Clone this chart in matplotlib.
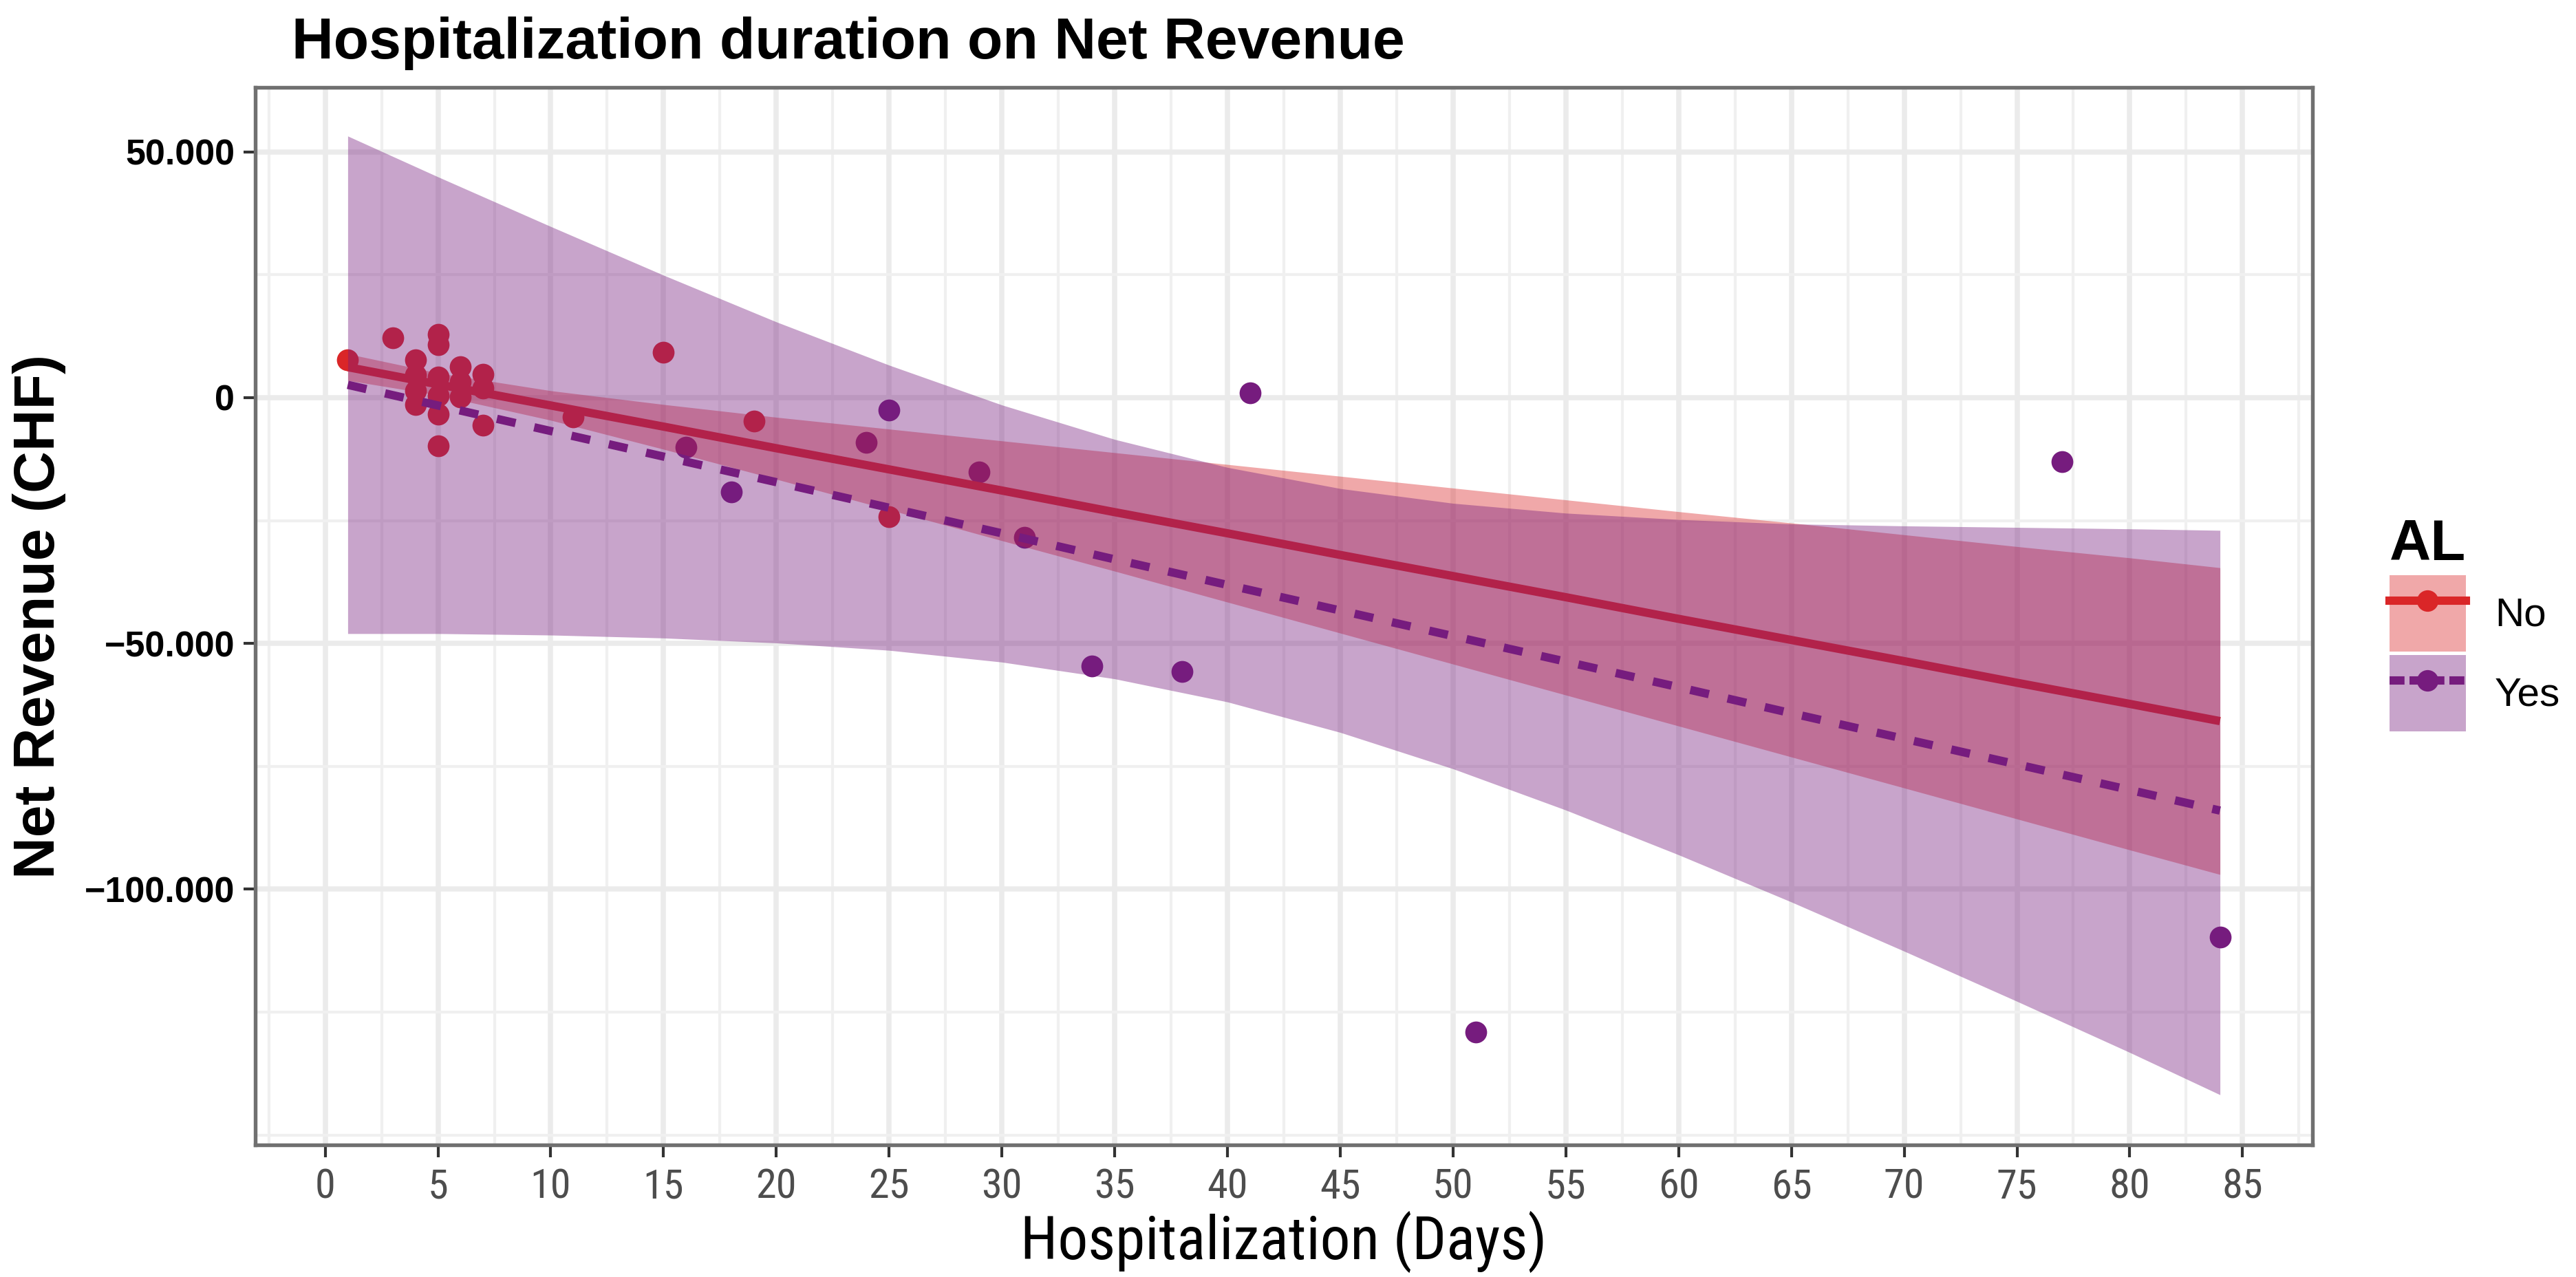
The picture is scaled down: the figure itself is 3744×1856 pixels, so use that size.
import matplotlib
matplotlib.use('Agg')
import matplotlib.pyplot as plt
from matplotlib import font_manager
from matplotlib.lines import Line2D
from matplotlib.patches import Patch
from matplotlib.ticker import MultipleLocator, FuncFormatter

# points
no_days = [1, 3, 4, 4, 4, 4, 5, 5, 5, 5, 5, 5, 6, 6, 6, 7, 7, 7, 11, 15, 19, 25]
no_revenue = [7700, 12200, 7700, 4600, 1400, -1400, 12800, 10800, 4200, 400, -3400, -9800,
              6300, 3200, 100, 4800, 2000, -5600, -4000, 9200, -4800, -24200]

yes_days = [16, 18, 24, 25, 29, 31, 34, 38, 41, 51, 77, 84]
yes_revenue = [-10100, -19200, -9100, -2500, -15100, -28400, -54600, -55700, 1000,
               -129000, -13000, -109700]

# linear fit and confidence band, read at these days
fit_days = [1, 5, 10, 15, 20, 25, 30, 35, 40, 45, 50, 55, 60, 65, 70, 75, 80, 84]
no_fit = [6200, 2700, -1600, -5900, -10300, -14600, -18900, -23300, -27600, -32000,
          -36300, -40600, -45000, -49300, -53600, -58000, -62300, -65800]
no_upper = [8900, 5000, 1400, -1400, -4000, -6400, -8800, -11200, -13600, -16000,
            -18400, -20800, -23200, -25500, -27900, -30300, -32600, -34600]
no_lower = [3500, 500, -4600, -10500, -16600, -22800, -29100, -35300, -41600, -47900,
            -54200, -60500, -66800, -73100, -79400, -85700, -92000, -97000]
yes_fit = [2600, -1600, -6800, -12000, -17200, -22400, -27600, -32900, -38100, -43300,
           -48500, -53700, -58900, -64200, -69400, -74600, -79800, -84000]
yes_upper = [53200, 44900, 34800, 24900, 15400, 6600, -1500, -8500, -14200, -18500,
             -21500, -23500, -24800, -25700, -26100, -26400, -26700, -27000]
yes_lower = [-48000, -48000, -48300, -48900, -49900, -51400, -53800, -57200, -61900,
             -68100, -75500, -83900, -93000, -102600, -112600, -122800, -133200, -141800]

x_ticks = list(range(0, 90, 5))
y_ticks = [-100000, -50000, 0, 50000]

RED = '#DA2628'
PURPLE = '#761C7E'
W, H = 3744, 1856

plt.rcParams['font.family'] = ['Liberation Sans', 'DejaVu Sans']


def find_narrow():
    """Pick a condensed sans face if one is installed (x axis text is narrow)."""
    prefs = ['Liberation', 'Arial', 'Noto Sans', 'Roboto', 'Open Sans', 'DejaVu Sans']
    found = []
    for f in font_manager.fontManager.ttflist:
        tag = (f.name + ' ' + f.fname).lower()
        narrow = ('narrow' in tag or 'condensed' in tag
                  or f.stretch in ('condensed', 'semi-condensed'))
        if not narrow or 'extra' in tag or 'ultra' in tag:
            continue
        if f.style != 'normal' or f.weight not in (400, 'normal', 'regular'):
            continue
        rank = next((i for i, p in enumerate(prefs) if p.lower() in tag), len(prefs))
        found.append((rank, f.fname))
    if not found:
        return None
    return font_manager.FontProperties(fname=sorted(found)[0][1])


narrow_fp = find_narrow()

fig = plt.figure(figsize=(W / 300, H / 300), dpi=300)
ax = fig.add_axes([371 / W, 1 - 1664 / H, (3361 - 371) / W, (1664 - 127) / H])

# ggplot layer order: points, then ribbon+line per group
ax.scatter(no_days, no_revenue, s=58, color=RED, linewidths=0, zorder=2)
ax.scatter(yes_days, yes_revenue, s=58, color=PURPLE, linewidths=0, zorder=2)

ax.fill_between(fit_days, no_lower, no_upper, color=RED, alpha=0.4, linewidth=0, zorder=3)
ax.plot(fit_days, no_fit, color=RED, lw=2.9, solid_capstyle='butt', zorder=4)
ax.fill_between(fit_days, yes_lower, yes_upper, color=PURPLE, alpha=0.4, linewidth=0, zorder=5)
ax.plot(fit_days, yes_fit, color=PURPLE, lw=2.9, dashes=(2.3, 2.3), zorder=6)

ax.set_xlim(-3.1, 88.1)
ax.set_ylim(-152000, 63100)
ax.set_xticks(x_ticks)
ax.set_yticks(y_ticks)
ax.xaxis.set_minor_locator(MultipleLocator(2.5))
ax.yaxis.set_minor_locator(MultipleLocator(25000))


def thousands(v, pos):
    return f"{v:,.0f}".replace(",", ".").replace("-", "\u2212")


ax.yaxis.set_major_formatter(FuncFormatter(thousands))

ax.set_axisbelow(True)
ax.grid(which='major', color='#EBEBEB', lw=1.8)
ax.grid(which='minor', color='#F0F0F0', lw=1.0)

for sp in ax.spines.values():
    sp.set_color('#707070')
    sp.set_linewidth(1.3)

ax.tick_params(which='major', length=4.2, width=1.0, color='#333333')
ax.tick_params(which='minor', length=0)
ax.tick_params(axis='x', pad=3.6, labelcolor='#4D4D4D')
ax.tick_params(axis='y', pad=3, labelsize=12.5, labelcolor='black')
for lab in ax.get_xticklabels():
    if narrow_fp is not None:
        lab.set_fontproperties(narrow_fp)
        lab.set_fontsize(14.5)
    else:
        lab.set_fontsize(13)
for lab in ax.get_yticklabels():
    lab.set_fontweight('bold')

fig.text(424 / W, 1 - 85 / H, 'Hospitalization duration on Net Revenue',
         fontsize=20.2, fontweight='bold', ha='left', va='baseline')
if narrow_fp is not None:
    fig.text((371 + 3361) / 2 / W, 1 - 1830 / H, 'Hospitalization (Days)',
             fontproperties=narrow_fp, fontsize=21, ha='center', va='baseline')
else:
    fig.text((371 + 3361) / 2 / W, 1 - 1830 / H, 'Hospitalization (Days)',
             fontsize=18.5, ha='center', va='baseline')
fig.text(57 / W, 1 - (127 + 1664) / 2 / H, 'Net Revenue (CHF)', fontsize=20.2,
         fontweight='bold', rotation=90, ha='center', va='center')

handles = [
    (Patch(facecolor=RED, alpha=0.4, linewidth=0),
     Line2D([], [], color=RED, lw=2.9, marker='o', ms=7.5, mew=0)),
    (Patch(facecolor=PURPLE, alpha=0.4, linewidth=0),
     Line2D([], [], color=PURPLE, lw=2.9, dashes=(1.8, 0.6), marker='o', ms=7.5, mew=0)),
]
leg = fig.legend(handles, ['No', 'Yes'], title='AL', loc='center left',
                 bbox_to_anchor=(3473 / W, 1 - 908 / H), frameon=False,
                 fontsize=14, title_fontproperties={'weight': 'bold', 'size': 20},
                 handlelength=1.9, handleheight=2.54, handletextpad=0.72,
                 labelspacing=0.09, borderpad=0, borderaxespad=0, alignment='left')

fig.savefig('out.png', dpi=300)
